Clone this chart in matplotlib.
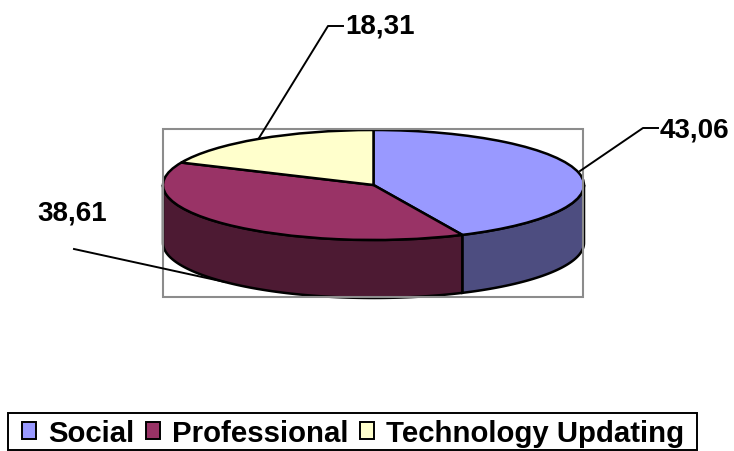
import numpy as np
from matplotlib import pyplot as plt
from matplotlib.patches import Patch, Polygon, Rectangle

plt.rcParams['font.family'] = ['Liberation Sans', 'DejaVu Sans']
plt.rcParams['font.weight'] = 'bold'

categorias = ['Social', 'Professional', 'Technology Updating']
valores = [43.06, 38.61, 18.31]
etiquetas = ['43,06', '38,61', '18,31']
colores = ['#9999FF', '#993366', '#FFFFCC']
colores_lado = ['#4D4D80', '#4D1A33', '#80805F']

W, H = 734, 452
fig = plt.figure(figsize=(W / 100, H / 100), dpi=100)

# capa en pixeles para marco, lineas y textos
capa = fig.add_axes([0, 0, 1, 1])
capa.set_xlim(0, W)
capa.set_ylim(H, 0)
capa.axis('off')
capa.add_patch(Rectangle((163, 130), 420, 168, fill=False, edgecolor='#8C8C8C', lw=1.5))

# la torta va en sus propios ejes, aplastada para que parezca 3D
izq, der, arriba, abajo = 163, 584, 131, 241
ax = fig.add_axes([izq / W, 1 - abajo / H, (der - izq) / W, (abajo - arriba) / H])
profundidad = 58 / ((abajo - arriba) / 2)

# lado visible: de 90 a 270 grados medidos desde arriba en sentido horario
bordes = np.concatenate([[0], np.cumsum(valores)]) / sum(valores) * 360
for i in range(len(valores)):
    a0 = max(bordes[i], 90)
    a1 = min(bordes[i + 1], 270)
    if a1 <= a0:
        continue
    t = np.radians(np.linspace(a0, a1, 80))
    x = np.sin(t)
    y = np.cos(t)
    pts = np.vstack([np.column_stack([x, y]), np.column_stack([x[::-1], y[::-1] - profundidad])])
    ax.add_patch(Polygon(pts, closed=True, facecolor=colores_lado[i], edgecolor='black', lw=1.8, clip_on=False))

ax.pie(valores, colors=colores, startangle=90, counterclock=False, radius=1,
       wedgeprops={'edgecolor': 'black', 'linewidth': 1.8, 'clip_on': False})
ax.set_aspect('auto')
ax.set_xlim(-1, 1)
ax.set_ylim(-1, 1)
ax.axis('off')

# lineas guia y etiquetas
capa.set_zorder(3)
capa.patch.set_alpha(0)
capa.plot([580, 643, 658], [172, 129, 129], color='black', lw=1.4)
capa.plot([259, 328, 343], [139, 27, 27], color='black', lw=1.4)
capa.plot([74, 225], [250, 283], color='black', lw=1.4)
capa.text(660, 131, etiquetas[0], fontsize=20, ha='left', va='center')
capa.text(37, 214, etiquetas[1], fontsize=20, ha='left', va='center')
capa.text(345, 26, etiquetas[2], fontsize=20, ha='left', va='center')

# leyenda: el recuadro va aparte para ajustar el margen izquierdo
capa.add_patch(Rectangle((8, 414), 689, 37, fill=False, edgecolor='black', lw=1.4, clip_on=False))
handles = [Patch(facecolor=c, edgecolor='black', lw=1.4) for c in colores]
capa.legend(handles, categorias, ncol=3, loc='center left',
            bbox_to_anchor=(22 / W, 1 - 434 / H), bbox_transform=fig.transFigure,
            fontsize=21.2, frameon=False,
            handlelength=0.48, handleheight=0.48, handletextpad=0.4, columnspacing=0.4,
            borderpad=0, borderaxespad=0, labelspacing=0)

fig.savefig('out.png', dpi=100)
